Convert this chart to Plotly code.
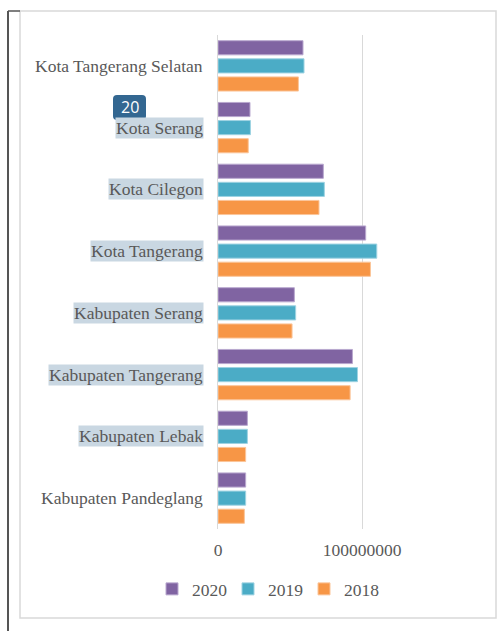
import plotly.graph_objects as go

categories = ["Kabupaten Pandeglang", "Kabupaten Lebak", "Kabupaten Tangerang",
              "Kabupaten Serang", "Kota Tangerang", "Kota Cilegon",
              "Kota Serang", "Kota Tangerang Selatan"]
highlighted = ["Kabupaten Lebak", "Kabupaten Tangerang", "Kabupaten Serang",
               "Kota Tangerang", "Kota Cilegon", "Kota Serang"]

v2020 = [19200000, 20400000, 93300000, 53000000, 102500000, 73100000, 22200000, 59000000]
v2019 = [19200000, 20400000, 96800000, 53900000, 110200000, 73800000, 22500000, 59700000]
v2018 = [18300000, 19200000, 91700000, 51400000, 105800000, 70100000, 21000000, 55800000]

tick_vals = [0, 100000000]
tick_text = ["0", "100000000"]

FONT = "Liberation Serif"
TXT = "#595959"
FS = 17.5

fig = go.Figure()
for name, vals, col, edge in [("2018", v2018, "#F79646", "#FBC59A"),
                              ("2019", v2019, "#4BACC6", "#9ED3E2"),
                              ("2020", v2020, "#8064A2", "#B9A8CF")]:
    fig.add_trace(go.Bar(y=categories, x=vals, name=name, orientation="h",
                         marker=dict(color=col, line=dict(color=edge, width=1))))

fig.update_layout(
    width=497, height=631,
    margin=dict(l=218, r=11, t=35, b=102),
    paper_bgcolor="white", plot_bgcolor="white",
    barmode="group", bargap=0.12, bargroupgap=0.22,
    font=dict(family=FONT, size=FS, color=TXT),
    showlegend=True,
    legend=dict(orientation="h", traceorder="reversed",
                x=(266 - 218) / 268, xanchor="center",
                y=-(589 - 529) / 494, yanchor="middle",
                font=dict(family=FONT, size=FS, color=TXT),
                itemwidth=30, entrywidth=31, entrywidthmode="pixels",
                bgcolor="rgba(0,0,0,0)"),
    xaxis=dict(range=[0, 186000000], tickvals=tick_vals, ticktext=tick_text,
               showgrid=True, gridcolor="#D9D9D9", gridwidth=1,
               zeroline=False, showline=False, ticks="", ticklabelstandoff=8,
               tickfont=dict(family=FONT, size=FS, color=TXT), fixedrange=True),
    yaxis=dict(showticklabels=False, showline=True, linecolor="#D9D9D9", linewidth=1,
               ticks="", showgrid=False, zeroline=False, fixedrange=True),
)

# category labels (some carry a light selection highlight as in the reference)
for c in categories:
    fig.add_annotation(x=0, xref="paper", y=c, yref="y", text=c, showarrow=False,
                       xanchor="right", yanchor="middle", xshift=-14,
                       font=dict(family=FONT, size=FS, color=TXT),
                       bgcolor="#C9D7E2" if c in highlighted else "rgba(0,0,0,0)",
                       borderpad=0)

def px(x):
    return (x - 218) / 268
def py(y):
    return 1 - (y - 35) / 494

# chart frame
fig.add_shape(type="rect", xref="paper", yref="paper",
              x0=px(20), x1=px(496), y0=py(618), y1=py(11),
              line=dict(color="#D9D9D9", width=1.5), layer="below")
# dark page edge at left
fig.add_shape(type="line", xref="paper", yref="paper",
              x0=px(8), x1=px(8), y0=py(631), y1=py(11),
              line=dict(color="#555555", width=2))
fig.add_shape(type="line", xref="paper", yref="paper",
              x0=px(8), x1=px(20), y0=py(11), y1=py(11),
              line=dict(color="#555555", width=1.5))

# "20" badge overlay
bx0, bx1, by0, by1 = 113, 146, 95, 120
r = 4
path = (f"M {px(bx0 + r)},{py(by0)} L {px(bx1 - r)},{py(by0)} "
        f"Q {px(bx1)},{py(by0)} {px(bx1)},{py(by0 + r)} L {px(bx1)},{py(by1 - r)} "
        f"Q {px(bx1)},{py(by1)} {px(bx1 - r)},{py(by1)} L {px(bx0 + r)},{py(by1)} "
        f"Q {px(bx0)},{py(by1)} {px(bx0)},{py(by1 - r)} L {px(bx0)},{py(by0 + r)} "
        f"Q {px(bx0)},{py(by0)} {px(bx0 + r)},{py(by0)} Z")
fig.add_shape(type="path", xref="paper", yref="paper", path=path,
              fillcolor="#336791", line=dict(width=0), layer="above")
fig.add_annotation(x=px((bx0 + bx1) / 2), y=py((by0 + by1) / 2), xref="paper", yref="paper",
                   text="20", showarrow=False, xanchor="center", yanchor="middle",
                   font=dict(family="Open Sans", size=16, color="white"))

fig.write_html("out.html")
